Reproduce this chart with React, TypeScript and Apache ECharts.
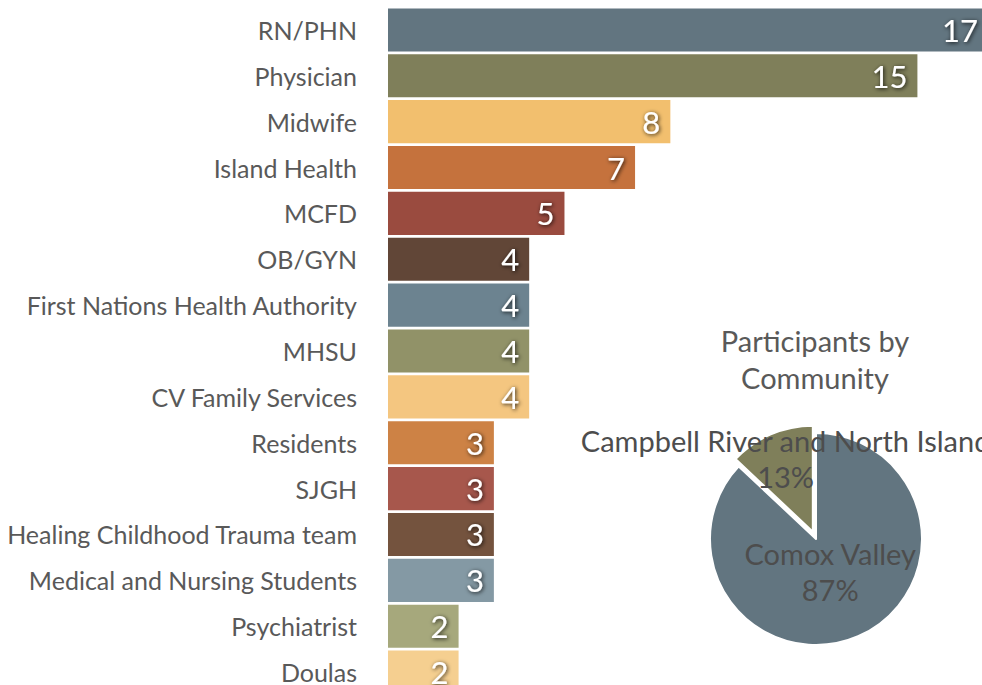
import React, { useEffect, useRef } from "react";
import * as echarts from "echarts";

const categories = [
  "RN/PHN",
  "Physician",
  "Midwife",
  "Island Health",
  "MCFD",
  "OB/GYN",
  "First Nations Health Authority",
  "MHSU",
  "CV Family Services",
  "Residents",
  "SJGH",
  "Healing Childhood Trauma team",
  "Medical and Nursing Students",
  "Psychiatrist",
  "Doulas",
];
const counts = [17, 15, 8, 7, 5, 4, 4, 4, 4, 3, 3, 3, 3, 2, 2];
const barColors = [
  "#627580", "#7f7f5a", "#f2bf6e", "#c5723d", "#9a4b3f", "#614637", "#6c8390",
  "#919268", "#f4c680", "#cd8245", "#a7574c", "#74533e", "#8499a4", "#a6a87c", "#f5cf90",
];

const communities = ["Comox Valley", "Campbell River and North Island"];
const communityShares = [87, 13];
const pieColors = ["#627580", "#7f7f5a"];
const pieTitle = "Participants by\nCommunity";

const FONT = "Lato, 'Open Sans', sans-serif";

export default function App() {
  const ref = useRef<HTMLDivElement>(null);
  useEffect(() => {
    if (!ref.current) return;
    const chart = echarts.init(ref.current, null, { renderer: "svg" });
    chart.setOption({
      animation: false,
      textStyle: { fontFamily: FONT },
      title: {
        text: pieTitle,
        left: 810,
        top: 317,
        textAlign: "center",
        textStyle: { fontFamily: FONT, fontSize: 29, fontWeight: "normal", color: "#595959", lineHeight: 37 },
      },
      grid: { left: 388, top: 7, width: 600, height: 688, containLabel: false, outerBoundsMode: "none" },
      xAxis: { type: "value", min: 0, max: 17, show: false },
      yAxis: {
        type: "category",
        inverse: true,
        data: categories,
        axisLine: { show: false },
        axisTick: { show: false },
        axisLabel: { fontFamily: FONT, fontSize: 25, color: "#595959", margin: 31 },
      },
      series: [
        {
          type: "bar",
          data: counts.map((v, i) => ({ value: v, itemStyle: { color: barColors[i] } })),
          barCategoryGap: "6%",
          label: {
            show: true,
            position: "insideRight",
            distance: 10,
            fontFamily: FONT,
            fontSize: 31,
            color: "#ffffff",
            textShadowColor: "rgba(0,0,0,0.85)",
            textShadowBlur: 4,
            textShadowOffsetX: 1,
            textShadowOffsetY: 1,
          },
        },
        {
          type: "pie",
          center: [816, 539],
          radius: [0, 106],
          startAngle: 90,
          clockwise: true,
          selectedMode: "single",
          selectedOffset: 8,
          itemStyle: { borderColor: "#ffffff", borderWidth: 2 },
          label: {
            show: true,
            position: "inside",
            formatter: "{b}\n{d}%",
            fontFamily: FONT,
            fontSize: 29,
            lineHeight: 36,
            color: "#4d4d4d",
          },
          labelLine: { show: false },
          labelLayout: (params: any) =>
            params.dataIndex === 0 ? { dx: -8, dy: -19 } : { dx: -5, dy: -22 },
          data: communities.map((name, i) => ({
            name,
            value: communityShares[i],
            selected: i === 1,
            itemStyle: { color: pieColors[i] },
          })),
        },
      ],
    });
    return () => chart.dispose();
  }, []);
  return (
    <div
      ref={ref}
      style={{ position: "fixed", left: 0, top: 0, width: 982, height: 685, background: "#ffffff" }}
    />
  );
}
